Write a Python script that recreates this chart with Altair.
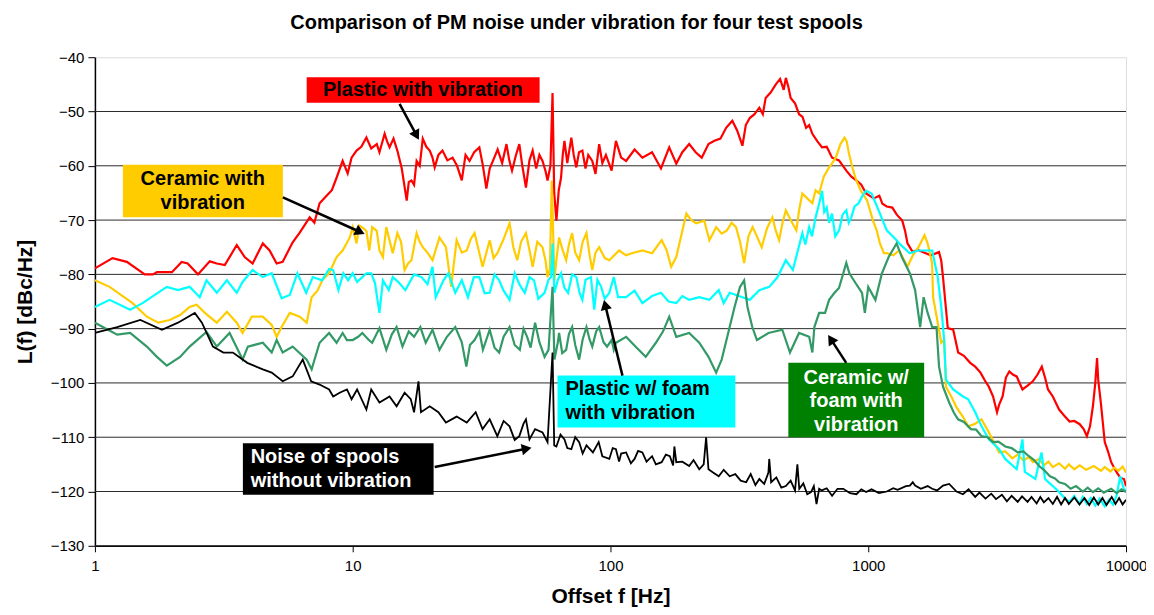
import math
import altair as alt
import pandas as pd

# ---------------- data (Offset f [Hz], L(f) [dBc/Hz]) ----------------
red_pts = [
    (1, -78.9), (1.17, -77.0), (1.33, -77.7), (1.56, -80.0), (1.68, -80.0), (1.74, -79.6), (1.99, -79.6),
    (2.17, -77.7), (2.29, -78.0), (2.51, -80.0), (2.79, -77.6), (2.97, -78.0), (3.19, -78.3), (3.55, -74.6),
    (3.81, -76.8), (4.09, -78.0), (4.48, -74.3), (4.76, -75.6), (5.07, -78.0), (5.35, -77.7), (5.85, -74.1),
    (6.23, -72.3), (6.81, -69.5), (7.1, -70.5), (7.44, -66.9), (7.92, -65.5), (8.3, -64.5), (8.66, -62.2),
    (9.14, -59.1), (9.56, -61.4), (9.9, -58.5), (10.35, -57.2), (10.8, -56.5), (11.3, -54.8), (11.8, -56.8),
    (12.4, -56.0), (12.7, -57.5), (13.3, -54.1), (13.6, -55.5), (13.9, -56.6), (14.4, -55.0), (14.9, -57.2),
    (15.5, -60.5), (16.2, -66.4), (16.5, -63.0), (16.9, -62.7), (17.3, -63.5), (17.7, -59.1), (18.2, -60.0),
    (18.7, -55.0), (19.3, -56.5), (19.9, -57.2), (20.4, -58.5), (20.8, -60.3), (21.5, -58.0), (22.3, -57.2),
    (23.3, -59.0), (24.4, -58.5), (25.4, -60.0), (26.5, -62.7), (27.4, -58.0), (28.4, -59.1), (29.6, -57.5),
    (31, -56.6), (32, -60.0), (33, -64.2), (34, -60.5), (35, -59.1), (36.5, -57.0), (38, -59.5), (39.5, -56.0),
    (40.5, -59.0), (41.5, -60.9), (43, -58.0), (44.3, -56.0), (45.5, -60.0), (47, -64.0), (48.5, -59.0),
    (49.9, -57.2), (51.5, -60.5), (53, -58.0), (54.5, -59.1), (56, -61.0), (57, -62.7), (58.5, -60.0),
    (59.6, -46.6), (60.5, -65.0), (61.7, -70.1), (63, -64.5), (64.3, -62.2), (65.3, -58.0), (66.3, -55.4),
    (68, -59.5), (70.5, -54.8), (72, -58.0), (73.7, -60.3), (75.5, -57.5), (77.8, -57.2), (80, -60.5),
    (82, -58.0), (85, -59.1), (87.5, -61.5), (90.4, -56.0), (93, -59.5), (96, -58.0), (101, -60.9),
    (105, -55.4), (110, -58.5), (115, -59.1), (124, -57.0), (133, -58.5), (145, -57.5), (157, -60.5),
    (169, -56.6), (180, -59.6), (190, -57.5), (202, -56.0), (214, -57.5), (226, -58.5), (240, -56.0),
    (253, -55.4), (267, -55.0), (281, -53.0), (297, -51.7), (310, -53.5), (325, -56.3), (335, -52.5),
    (347, -51.2), (362, -50.5), (378, -49.3), (390, -50.5), (400, -47.5), (418, -46.5), (438, -45.0),
    (455, -44.0), (470, -46.0), (479, -43.8), (490, -45.5), (500, -47.5), (520, -48.5), (539, -50.5),
    (556, -51.0), (574, -53.0), (590, -52.5), (607, -54.1), (635, -55.5), (662, -56.6), (690, -56.5),
    (724, -58.5), (770, -59.0), (822, -60.9), (860, -62.0), (899, -62.7), (940, -63.5), (981, -65.1),
    (1050, -66.0), (1104, -65.5), (1135, -67.0), (1180, -67.5), (1240, -67.7), (1290, -69.0), (1355, -70.1),
    (1390, -72.0), (1420, -74.3), (1488, -75.9), (1560, -75.5), (1627, -75.9), (1750, -76.5), (1882, -75.9),
    (1920, -77.5), (1950, -80.5), (1990, -85.0), (2035, -89.9), (2136, -90.2), (2233, -94.4), (2350, -95.0),
    (2486, -96.3), (2600, -97.0), (2726, -98.1), (2830, -99.5), (2937, -100.7), (3050, -102.5), (3159, -105.4),
    (3220, -104.0), (3320, -102.5), (3420, -99.0), (3527, -97.9), (3650, -98.5), (3765, -98.8), (3965, -101.2),
    (4150, -100.5), (4349, -99.7), (4530, -98.5), (4714, -97.0), (4850, -99.0), (4982, -101.2), (5200, -102.5),
    (5500, -104.9), (5750, -106.0), (6040, -107.1), (6300, -107.0), (6612, -107.6), (6850, -108.5),
    (7050, -109.8), (7250, -108.0), (7440, -104.3), (7600, -100.0), (7720, -95.4), (7800, -99.4),
    (8000, -104.0), (8270, -110.9), (8500, -112.5), (8760, -114.6), (9180, -116.4), (9500, -117.5),
    (9820, -117.7), (10000, -119.0),
]

yellow_pts = [
    (1, -81.1), (1.14, -82.3), (1.4, -85.3), (1.59, -87.8), (1.76, -88.9), (1.95, -88.4), (2.14, -87.5),
    (2.33, -86.0), (2.48, -85.6), (2.67, -87.1), (2.97, -88.9), (3.25, -86.9), (3.55, -88.9), (3.74, -90.8),
    (4.06, -87.8), (4.48, -87.8), (4.85, -89.3), (5.07, -91.5), (5.3, -89.7), (5.7, -87.1), (6.23, -87.8),
    (6.63, -88.9), (6.93, -84.2), (7.3, -83.0), (7.64, -81.0), (8.1, -79.8), (8.66, -76.8), (9.14, -75.6),
    (9.74, -73.2), (10, -71.3), (10.35, -74.3), (10.6, -71.0), (11.0, -71.5), (11.3, -72.0), (11.6, -75.6),
    (11.9, -71.3), (12.4, -72.0), (12.7, -75.6), (13.1, -76.8), (13.5, -71.3), (14.3, -76.1), (14.9, -72.4),
    (15.4, -74.0), (15.9, -79.2), (16.4, -78.0), (16.9, -77.4), (17.7, -72.4), (18.2, -74.0), (18.7, -75.0),
    (19.5, -76.0), (20.4, -77.4), (21.7, -73.2), (23, -75.0), (24.1, -82.3), (25.3, -73.7), (26.5, -76.0),
    (27.7, -75.6), (28.7, -73.5), (29.7, -72.4), (30.8, -75.5), (31.9, -78.6), (34, -73.7), (35.2, -77.0),
    (36.4, -76.1), (38.5, -73.5), (40.6, -70.6), (42, -75.0), (43.5, -77.4), (45, -74.0), (47, -72.4),
    (48.5, -75.5), (49.9, -78.6), (52, -74.0), (54.5, -75.0), (56, -77.5), (57, -80.5), (58.2, -79.0),
    (59.2, -62.7), (60.6, -81.0), (61.8, -77.0), (63.2, -73.2), (65.2, -75.5), (67.3, -77.4), (69, -74.5),
    (71, -72.4), (73, -76.0), (75.6, -77.4), (78, -74.0), (80.7, -72.4), (83, -76.5), (85, -79.2),
    (87.5, -76.0), (90.4, -75.0), (95, -77.0), (99, -77.4), (108, -75.6), (115, -76.5), (121, -76.1),
    (133, -75.6), (145, -76.1), (158, -73.7), (165, -75.5), (172, -78.6), (180, -76.8), (190, -72.0),
    (197, -68.8), (206, -70.0), (215, -70.6), (231, -70.1), (242, -73.7), (257, -71.3), (270, -72.5),
    (283, -71.9), (295, -70.5), (307, -71.3), (318, -74.0), (330, -77.9), (343, -73.0), (356, -71.3),
    (370, -73.0), (386, -75.0), (405, -71.5), (425, -69.5), (438, -72.0), (451, -73.7), (465, -70.5),
    (479, -68.2), (500, -70.0), (526, -71.9), (540, -68.0), (555, -65.1), (580, -66.0), (607, -66.9),
    (625, -64.5), (645, -65.1), (672, -62.0), (705, -60.3), (725, -59.5), (748, -58.5), (780, -56.0),
    (809, -54.8), (825, -55.5), (842, -57.8), (870, -60.5), (899, -62.7), (935, -64.6), (990, -66.4),
    (1043, -70.1), (1080, -72.0), (1110, -74.3), (1150, -76.1), (1180, -76.1), (1250, -76.5), (1318, -75.6),
    (1420, -78.6), (1490, -76.5), (1566, -75.0), (1653, -72.8), (1700, -74.3), (1768, -77.9), (1785, -84.2),
    (1852, -88.4), (1920, -92.6), (1970, -92.1), (2002, -100.7), (2100, -102.5), (2200, -104.5),
    (2328, -106.2), (2442, -108.0), (2600, -107.5), (2750, -106.7), (2937, -109.1), (3080, -111.0),
    (3220, -112.8), (3400, -112.6), (3620, -113.9), (3800, -113.2), (4000, -114.3), (4200, -113.6),
    (4349, -114.6), (4600, -114.0), (4800, -115.2), (5000, -114.5), (5200, -115.5), (5500, -114.8),
    (5800, -115.8), (6000, -115.0), (6300, -115.9), (6612, -115.2), (7000, -116.0), (7500, -115.3),
    (8000, -116.2), (8270, -115.5), (8700, -116.3), (9000, -115.6), (9350, -116.2), (9700, -115.4),
    (10000, -116.5),
]

cyan_pts = [
    (1, -86.0), (1.14, -84.7), (1.37, -86.5), (1.53, -85.3), (1.9, -82.3), (2.1, -82.9), (2.33, -82.3),
    (2.55, -84.2), (2.71, -81.1), (2.97, -83.4), (3.25, -81.1), (3.55, -83.4), (3.74, -81.4), (4.09, -79.2),
    (4.48, -80.5), (4.85, -79.8), (5.3, -84.4), (5.7, -83.8), (6.1, -79.8), (6.6, -83.4), (7, -80.5),
    (7.6, -81.1), (8.1, -79.0), (8.4, -79.2), (8.8, -82.9), (9.2, -79.8), (9.6, -81.1), (10, -79.8),
    (10.4, -81.4), (10.9, -80.5), (11.3, -79.8), (11.8, -79.8), (12.2, -81.6), (12.7, -87.1), (13.1, -81.1),
    (13.8, -82.9), (14.3, -80.5), (15.1, -81.5), (16, -82.9), (17.3, -80.0), (18.5, -80.5), (19.5, -81.8),
    (20.4, -78.6), (21, -84.2), (22.5, -81.1), (23.5, -79.8), (25, -83.4), (26.5, -81.1), (28, -84.2),
    (29.5, -80.5), (31, -80.5), (32.5, -83.5), (34, -83.4), (35.5, -80.0), (37, -81.1), (38.5, -83.0),
    (40.6, -84.7), (42.5, -79.8), (44.5, -82.0), (46.5, -83.4), (48.5, -80.5), (50.5, -81.1), (52.5, -84.5),
    (55.5, -83.4), (57.5, -81.0), (58.8, -80.5), (59.6, -74.3), (60.6, -83.4), (62.5, -81.0), (64.3, -79.8),
    (66.3, -82.5), (68.5, -83.4), (71, -80.0), (73.7, -80.5), (76, -83.5), (77.8, -84.7), (80, -81.0),
    (84, -80.5), (86.5, -86.5), (89, -81.0), (92, -82.3), (95, -84.5), (99, -83.4), (103, -80.5),
    (107, -84.2), (115, -84.2), (124, -83.0), (133, -85.3), (145, -84.0), (157, -83.4), (168, -85.0),
    (180, -85.3), (190, -84.0), (202, -84.7), (221, -84.2), (242, -84.7), (263, -82.9), (275, -85.3),
    (290, -83.4), (315, -84.0), (347, -84.7), (378, -82.9), (413, -82.3), (445, -80.5), (479, -77.4),
    (510, -79.2), (555, -72.4), (570, -74.5), (590, -71.3), (605, -73.0), (625, -69.5), (645, -67.0),
    (662, -64.6), (675, -68.5), (690, -67.7), (705, -70.5), (724, -68.8), (745, -73.0), (771, -71.9),
    (795, -69.0), (822, -68.2), (840, -70.5), (860, -69.5), (885, -67.5), (917, -66.9), (950, -65.5),
    (981, -64.6), (1030, -65.1), (1060, -66.5), (1110, -68.8), (1180, -71.9), (1288, -73.7), (1318, -74.3),
    (1450, -76.1), (1560, -75.6), (1770, -75.6), (1860, -80.5), (1920, -86.0), (1970, -92.1), (2002, -99.4),
    (2136, -101.2), (2330, -102.5), (2442, -103.0), (2600, -105.4), (2750, -108.0), (2937, -110.4),
    (3220, -112.2), (3400, -114.0), (3765, -115.9), (3965, -110.4), (4050, -116.4), (4450, -117.7),
    (4700, -112.8), (4850, -117.7), (5200, -119.0), (5500, -120.1), (5800, -121.3), (6040, -121.9),
    (6300, -120.8), (6600, -122.3), (6800, -121.0), (7050, -122.3), (7300, -121.2), (7600, -122.6),
    (7900, -121.3), (8270, -122.7), (8600, -121.5), (8900, -122.4), (9180, -120.8), (9500, -117.2),
    (9800, -119.5), (10000, -120.0),
]

green_pts = [
    (1, -88.9), (1.22, -91.1), (1.37, -90.8), (1.59, -93.3), (1.74, -95.2), (1.9, -96.8), (2.14, -95.2),
    (2.33, -93.3), (2.71, -90.6), (2.97, -93.3), (3.33, -90.8), (3.74, -95.7), (3.92, -93.3), (4.48, -92.6),
    (4.85, -94.4), (5.07, -92.1), (5.35, -94.4), (5.85, -93.3), (6.63, -95.7), (6.93, -97.5), (7.44, -92.6),
    (8.1, -90.8), (8.66, -92.6), (9.14, -90.8), (9.5, -92.1), (10, -92.1), (10.5, -91.5), (10.9, -90.8),
    (11.5, -92.0), (11.9, -92.6), (12.7, -89.9), (13.5, -93.9), (14.2, -91.0), (14.8, -89.7), (15.6, -93.3),
    (16.5, -90.5), (17.3, -91.5), (18.3, -89.7), (19.2, -92.6), (20.4, -90.2), (21.7, -93.9), (23.2, -91.5),
    (25, -89.7), (26.5, -92.5), (27.6, -97.0), (28.5, -93.0), (29.7, -92.1), (31, -90.5), (32, -93.9),
    (34, -90.2), (35.5, -93.5), (37, -94.4), (38.5, -91.5), (40.6, -89.7), (42.5, -93.0), (44.5, -93.9),
    (46, -90.0), (47.5, -91.5), (49, -93.5), (51, -88.9), (53, -92.5), (55.5, -95.2), (57.5, -93.9),
    (59.6, -82.3), (60.6, -95.7), (62.5, -92.5), (63.2, -90.8), (65, -94.5), (67.3, -93.9), (69, -91.0),
    (71, -89.7), (73, -93.0), (75.6, -95.7), (78, -92.0), (80.7, -89.7), (83, -92.0), (85, -93.3),
    (88, -90.5), (90.4, -89.7), (94, -92.5), (97, -93.3), (101, -92.1), (103, -93.9), (105, -92.6),
    (115, -91.5), (125, -93.3), (137, -95.2), (150, -92.6), (160, -90.5), (169, -87.8), (180, -91.5),
    (202, -90.8), (221, -92.6), (240, -95.2), (257, -98.1), (270, -95.7), (290, -89.7), (303, -86.0),
    (318, -82.3), (330, -81.1), (340, -86.0), (355, -89.7), (370, -92.1), (410, -90.8), (464, -90.2),
    (497, -94.4), (539, -90.8), (590, -91.5), (607, -94.4), (618, -89.7), (645, -87.1), (680, -87.1),
    (705, -84.7), (740, -83.4), (770, -82.5), (822, -77.9), (845, -79.8), (890, -81.5), (946, -83.4),
    (970, -87.1), (1000, -82.3), (1066, -84.7), (1130, -79.8), (1200, -76.8), (1288, -74.3), (1350, -76.8),
    (1450, -79.8), (1520, -82.9), (1590, -89.7), (1640, -84.2), (1700, -87.1), (1770, -89.7), (1840, -89.7),
    (1882, -97.0), (1950, -100.7), (2060, -103.6), (2150, -105.5), (2230, -106.7), (2350, -107.2),
    (2500, -108.5), (2620, -108.6), (2750, -109.8), (2900, -110.0), (3050, -110.9), (3200, -110.8),
    (3400, -111.7), (3600, -112.0), (3800, -112.8), (4000, -112.6), (4200, -113.5), (4400, -114.2),
    (4600, -115.3), (4800, -116.0), (5070, -117.2), (5300, -117.6), (5500, -118.3), (5800, -118.6),
    (6100, -119.5), (6400, -119.0), (6800, -120.0), (7100, -119.3), (7440, -120.1), (7800, -119.4),
    (8200, -120.2), (8760, -119.5), (9200, -120.3), (9600, -119.6), (10000, -120.1),
]

black_pts = [
    (1, -90.8), (1.22, -89.7), (1.5, -88.4), (1.82, -90.2), (2.1, -88.9), (2.44, -87.1), (2.6, -88.9),
    (2.87, -93.3), (3.15, -94.4), (3.43, -94.4), (3.9, -96.3), (4.48, -97.5), (4.85, -98.1), (5.35, -99.7),
    (5.85, -98.8), (6.4, -95.7), (6.9, -99.7), (7.44, -100.3), (8.1, -101.2), (8.4, -102.5), (8.9, -101.8),
    (9.5, -101.2), (9.9, -103.0), (10.4, -101.2), (11.3, -104.9), (11.8, -101.2), (12.7, -103.6),
    (13.9, -102.5), (14.8, -104.3), (15.9, -101.8), (16.8, -103.0), (17.3, -105.4), (18, -99.7),
    (18.4, -105.4), (19.9, -104.3), (21.5, -105.4), (23, -107.3), (25.3, -106.2), (27.7, -107.3),
    (30, -105.4), (31.9, -108.5), (34, -106.7), (36.4, -109.8), (38.5, -107.0), (40.6, -108.0),
    (42.5, -110.5), (44.3, -109.8), (46, -107.5), (47, -106.7), (48.5, -110.4), (51, -108.5),
    (54.5, -109.1), (57, -110.9), (59.6, -94.4), (60.5, -111.5), (61.7, -111.7), (64, -109.5),
    (66.3, -110.4), (68, -112.0), (70.5, -112.2), (73, -110.0), (75.6, -110.9), (78, -113.0), (80.7, -111.5),
    (85.5, -112.8), (90, -110.9), (93, -113.5), (99, -114.0), (102, -112.0), (105, -112.2), (108, -114.5),
    (110, -113.0), (115, -112.8), (120, -114.8), (124, -114.0), (128, -112.5), (133, -112.8), (138, -114.5),
    (145, -113.5), (150, -115.0), (158, -114.6), (164, -113.2), (170, -113.5), (175, -115.2), (177, -111.7),
    (180, -114.6), (190, -114.5), (202, -115.3), (210, -114.2), (221, -115.9), (230, -115.0), (235, -110.0),
    (240, -115.9), (250, -116.5), (263, -117.2), (275, -116.0), (290, -117.2), (305, -116.8), (320, -118.0),
    (336, -118.3), (350, -116.8), (365, -118.8), (378, -117.7), (395, -118.6), (410, -116.5), (413, -114.0),
    (420, -118.3), (440, -117.4), (460, -119.3), (479, -119.0), (500, -118.0), (520, -119.8), (531, -115.0),
    (540, -119.5), (560, -118.5), (580, -120.5), (600, -120.1), (615, -119.0), (630, -122.3), (645, -119.5),
    (660, -119.8), (690, -119.4), (724, -120.8), (760, -119.5), (800, -119.5), (850, -120.3), (900, -120.5),
    (940, -119.6), (981, -120.1), (1030, -119.6), (1100, -120.3), (1180, -120.0), (1250, -119.4),
    (1300, -119.7), (1400, -119.0), (1450, -118.9), (1488, -118.3), (1520, -118.9), (1600, -119.5),
    (1700, -119.0), (1770, -119.5), (1850, -119.8), (1950, -118.9), (2060, -118.6), (2200, -120.0),
    (2330, -120.5), (2450, -119.6), (2600, -121.0), (2700, -120.2), (2850, -121.3), (3000, -120.4),
    (3130, -121.4), (3300, -120.6), (3450, -121.8), (3600, -120.8), (3800, -121.9), (3950, -120.9),
    (4150, -121.9), (4300, -121.0), (4500, -122.2), (4650, -121.0), (4800, -122.0), (5000, -121.2),
    (5200, -122.3), (5400, -121.0), (5600, -122.4), (5800, -121.2), (6000, -122.3), (6300, -121.1),
    (6600, -122.4), (6900, -121.2), (7200, -122.5), (7500, -121.1), (7800, -122.4), (8100, -121.2),
    (8400, -122.5), (8800, -121.0), (9100, -122.3), (9400, -121.2), (9700, -122.4), (10000, -121.5),
]

x_ticks = [1, 10, 100, 1000, 10000]
y_ticks = [-130, -120, -110, -100, -90, -80, -70, -60, -50, -40]

# ---------------- layout ----------------
W, H = 1032, 489
FONT = "Liberation Sans"
PX_DEC = W / 4.0
PX_DB = H / 90.0

xscale = alt.Scale(type="log", domain=[1, 10000])
yscale = alt.Scale(domain=[-130, -40])
xaxis = alt.Axis(values=x_ticks, format="d", title="Offset f [Hz]", grid=False,
                 tickSize=6, tickColor="black", domainColor="black", domainWidth=1.5,
                 labelFontSize=15, labelPadding=7, labelFlush=False, labelOverlap=False,
                 labelColor="black", titleFontSize=21, titlePadding=12, titleColor="black",
                 titleFont=FONT, labelFont=FONT, titleFontWeight="bold")
yaxis = alt.Axis(values=y_ticks, title="L(f) [dBc/Hz]", grid=False,
                 tickSize=7, tickColor="black", domainColor="black", domainWidth=1.5,
                 labelFontSize=15, labelPadding=4, labelColor="black",
                 titleFontSize=21, titlePadding=15, titleColor="black",
                 titleFont=FONT, labelFont=FONT, titleFontWeight="bold")


def X(field):
    return alt.X(field, type="quantitative", scale=xscale, axis=xaxis)


def Y(field):
    return alt.Y(field, type="quantitative", scale=yscale, axis=yaxis)


layers = []

# horizontal grid lines
grid_df = pd.DataFrame({"g": [v for v in y_ticks if v != -40]})
layers.append(alt.Chart(grid_df).mark_rule(color="#2b2b2b", strokeWidth=1).encode(y=Y("g")))

series = [
    (red_pts, "#FF0000", 2.2),
    (yellow_pts, "#FFCC00", 2.2),
    (cyan_pts, "#00FFFF", 2.2),
    (green_pts, "#339966", 2.2),
    (black_pts, "#000000", 1.8),
]
for pts, col, sw in series:
    df = pd.DataFrame(pts, columns=["f", "db"])
    df["i"] = range(len(df))
    layers.append(
        alt.Chart(df).mark_line(color=col, strokeWidth=sw, clip=True, strokeJoin="miter")
        .encode(x=X("f"), y=Y("db"), order="i:Q")
    )

# annotation boxes
boxes = pd.DataFrame([
    dict(x1=6.63, x2=53.1, y1=-43.7, y2=-48.4, fill="#FF0000"),
    dict(x1=1.284, x2=5.36, y1=-59.8, y2=-69.5, fill="#FFCC00"),
    dict(x1=62.3, x2=305, y1=-98.65, y2=-108.2, fill="#00FFFF"),
    dict(x1=489.8, x2=1648, y1=-96.3, y2=-110.0, fill="#008000"),
    dict(x1=3.75, x2=20.6, y1=-111.1, y2=-120.6, fill="#000000"),
])
layers.append(
    alt.Chart(boxes).mark_rect().encode(
        x=X("x1"), x2="x2", y=Y("y1"), y2="y2", fill=alt.Fill("fill:N", scale=None)
    )
)

texts = pd.DataFrame([
    dict(t="Plastic with vibration", x=18.7, y=-46.05, c="black", a="center"),
    dict(t="Ceramic with", x=2.62, y=-62.5, c="black", a="center"),
    dict(t="vibration", x=2.62, y=-66.9, c="black", a="center"),
    dict(t="Plastic w/ foam", x=66.9, y=-101.2, c="black", a="left"),
    dict(t="with vibration", x=66.9, y=-105.6, c="black", a="left"),
    dict(t="Ceramic w/", x=898, y=-99.0, c="white", a="center"),
    dict(t="foam with", x=898, y=-103.4, c="white", a="center"),
    dict(t="vibration", x=898, y=-107.8, c="white", a="center"),
    dict(t="Noise of spools", x=4.02, y=-113.7, c="white", a="left"),
    dict(t="without vibration", x=4.02, y=-118.1, c="white", a="left"),
])
for al in ["center", "left"]:
    sub = texts[texts["a"] == al]
    layers.append(
        alt.Chart(sub).mark_text(font=FONT, fontSize=20, fontWeight="bold", align=al, baseline="middle")
        .encode(x=X("x"), y=Y("y"), text="t:N", color=alt.Color("c:N", scale=None))
    )

# arrows (tail -> head)
arrows = [
    ((15.2, -48.6), (17.9, -54.85)),
    ((5.36, -65.8), (10.94, -72.4)),
    ((111.3, -98.65), (94.8, -85.1)),
    ((821.5, -96.3), (706, -91.5)),
    ((20.8, -115.5), (48.5, -112.0)),
]
rule_rows, head_rows = [], []
for (tf, tdb), (hf, hdb) in arrows:
    dx = (math.log10(hf) - math.log10(tf)) * PX_DEC
    dy = -(hdb - tdb) * PX_DB
    L = math.hypot(dx, dy)
    ux, uy = dx / L, dy / L

    def back(px):
        return (10 ** (math.log10(hf) - px * ux / PX_DEC), hdb + px * uy / PX_DB)

    ef, edb = back(7)
    cf, cdb = back(4.5)
    ang = (math.degrees(math.atan2(ux, -uy)) + 360) % 360
    rule_rows.append(dict(x1=tf, y1=tdb, x2=ef, y2=edb))
    head_rows.append(dict(x=cf, y=cdb, ang=ang))

layers.append(
    alt.Chart(pd.DataFrame(rule_rows)).mark_rule(color="black", strokeWidth=2.5)
    .encode(x=X("x1"), x2="x2", y=Y("y1"), y2="y2")
)
layers.append(
    alt.Chart(pd.DataFrame(head_rows)).mark_point(shape="triangle", filled=True, color="black",
                                                  size=130, opacity=1, strokeWidth=0)
    .encode(x=X("x"), y=Y("y"), angle=alt.Angle("ang:Q", scale=None))
)

chart = (
    alt.layer(*layers)
    .properties(
        width=W, height=H,
        padding={"left": 87, "top": 49, "right": 20, "bottom": 66},
        autosize=alt.AutoSizeParams(type="none"),
        title=alt.TitleParams(
            "Comparison of PM noise under vibration for four test spools",
            font=FONT, fontSize=20, fontWeight="bold", color="black",
            anchor="middle", offset=17, dx=-34,
        ),
    )
    .configure_view(stroke="#9a9a9a", strokeWidth=2)
    .configure(background="white")
)

chart.save("out.html", embed_options={"renderer": "svg", "actions": False})
